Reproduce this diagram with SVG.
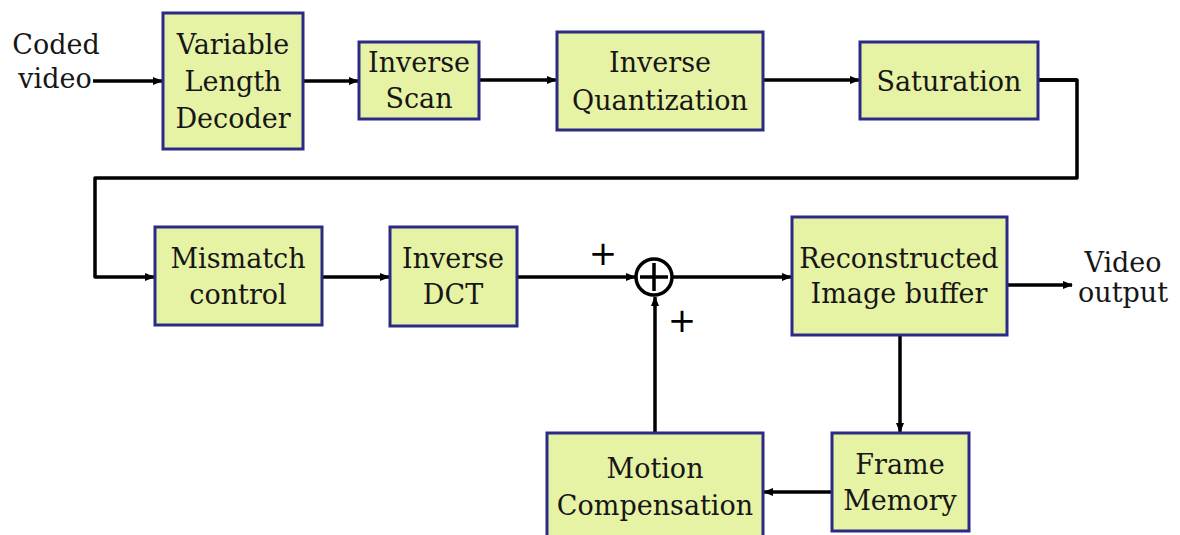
<svg xmlns="http://www.w3.org/2000/svg" width="1180" height="535" viewBox="0 0 1180 535">
<style>
.box{fill:#e6f2a4;stroke:#2b2b86;stroke-width:3}
.t{font-family:"DejaVu Serif","Liberation Serif",serif;font-size:27px;fill:#161616;text-anchor:middle}
.lbl{font-family:"DejaVu Serif","Liberation Serif",serif;font-size:27px;fill:#161616;text-anchor:middle}
.c{fill:none;stroke:#000;stroke-width:3.5}
.pl{font-family:"DejaVu Sans",sans-serif;font-size:34px;fill:#000;text-anchor:middle;dominant-baseline:central}
</style>
<defs>
<marker id="ah" markerWidth="10" markerHeight="8" refX="9" refY="4" orient="auto" markerUnits="userSpaceOnUse">
<path d="M0,0 L10,4 L0,8 Z" fill="#000"/>
</marker>
</defs>
<rect width="1180" height="535" fill="#fff"/>
<g id="connectors">
<path class="c" d="M93,81 H162" marker-end="url(#ah)"/>
<path class="c" d="M303,81 H358" marker-end="url(#ah)"/>
<path class="c" d="M479,80 H556" marker-end="url(#ah)"/>
<path class="c" d="M763,80 H859" marker-end="url(#ah)"/>
<path class="c" d="M1038,80 H1077 V178 H95 V277 H154" stroke-linejoin="round" marker-end="url(#ah)"/>
<path class="c" d="M1038,80 H1077" stroke-width="5"/>
<path class="c" d="M322,277 H389" marker-end="url(#ah)"/>
<path class="c" d="M517,277 H635" marker-end="url(#ah)"/>
<path class="c" d="M673,277 H791" marker-end="url(#ah)"/>
<path class="c" d="M1007,285 H1072" marker-end="url(#ah)"/>
<path class="c" d="M900,335 V432" marker-end="url(#ah)"/>
<path class="c" d="M832,492 H764" marker-end="url(#ah)"/>
<path class="c" d="M655,433 V297" marker-end="url(#ah)"/>
</g>
<g id="sum">
<circle cx="654" cy="277" r="18" fill="#fff" stroke="#000" stroke-width="3.5"/>
<path d="M654,263 V291 M640,277 H668" stroke="#000" stroke-width="3.5"/>
<text class="pl" x="603" y="253">+</text>
<text class="pl" x="682" y="320">+</text>
</g>
<g id="input-label">
<text class="lbl" x="56" y="54">Coded</text>
<text class="lbl" x="55" y="88">video</text>
</g>
<g id="vld">
<rect class="box" x="163" y="13" width="140" height="136"/>
<text class="t" x="233" y="54">Variable</text>
<text class="t" x="233" y="91">Length</text>
<text class="t" x="233" y="128">Decoder</text>
</g>
<g id="inverse-scan">
<rect class="box" x="359" y="42" width="120" height="77"/>
<text class="t" x="419" y="72">Inverse</text>
<text class="t" x="419" y="108">Scan</text>
</g>
<g id="inverse-quantization">
<rect class="box" x="557" y="32" width="206" height="98"/>
<text class="t" x="660" y="72">Inverse</text>
<text class="t" x="660" y="110">Quantization</text>
</g>
<g id="saturation">
<rect class="box" x="860" y="42" width="178" height="77"/>
<text class="t" x="949" y="91">Saturation</text>
</g>
<g id="mismatch-control">
<rect class="box" x="155" y="227" width="167" height="98"/>
<text class="t" x="238" y="268">Mismatch</text>
<text class="t" x="238" y="304">control</text>
</g>
<g id="inverse-dct">
<rect class="box" x="390" y="227" width="127" height="99"/>
<text class="t" x="453" y="268">Inverse</text>
<text class="t" x="453" y="304">DCT</text>
</g>
<g id="reconstructed">
<rect class="box" x="792" y="217" width="215" height="118"/>
<text class="t" x="899" y="268">Reconstructed</text>
<text class="t" x="899" y="303">Image buffer</text>
</g>
<g id="output-label">
<text class="lbl" x="1123" y="272">Video</text>
<text class="lbl" x="1123" y="302">output</text>
</g>
<g id="frame-memory">
<rect class="box" x="832" y="433" width="137" height="98"/>
<text class="t" x="900" y="474">Frame</text>
<text class="t" x="900" y="510">Memory</text>
</g>
<g id="motion-compensation">
<rect class="box" x="547" y="433" width="216" height="110"/>
<text class="t" x="655" y="478">Motion</text>
<text class="t" x="655" y="515">Compensation</text>
</g>
</svg>
